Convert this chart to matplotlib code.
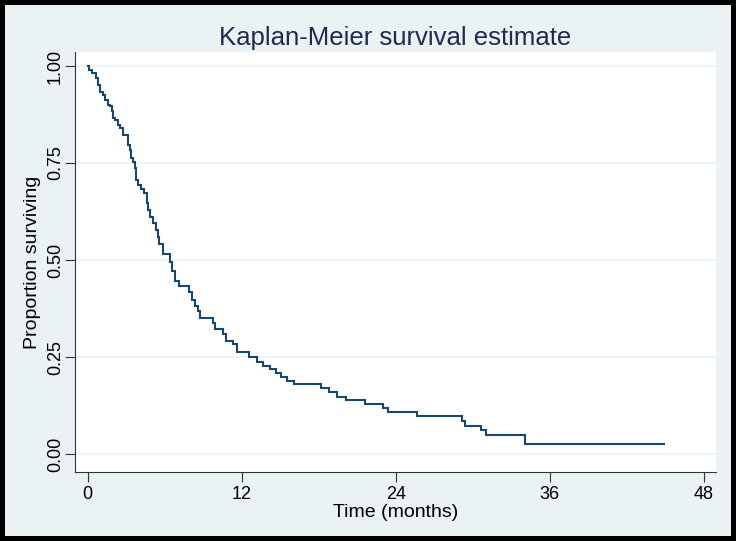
import matplotlib
matplotlib.use("Agg")
import matplotlib.pyplot as plt
import matplotlib.font_manager as fm
import numpy as np

# font: Stata look, narrow sans if available
names = {f.name for f in fm.fontManager.ttflist}
family = 'Liberation Sans Narrow' if 'Liberation Sans Narrow' in names else 'Liberation Sans'
plt.rcParams['font.family'] = [family, 'DejaVu Sans']

# -------------- KM step data ---------------------------------------------
times = [0.0, 0.12, 0.35, 0.65, 0.82, 0.95, 1.20, 1.40, 1.60, 1.75, 1.90, 1.98,
         2.15, 2.38, 2.55, 2.75, 3.15, 3.30, 3.40, 3.55, 3.70, 3.80, 3.95, 4.20,
         4.40, 4.60, 4.75, 4.90, 5.10, 5.30, 5.50, 5.60, 5.90, 6.45, 6.60, 6.85,
         7.10, 7.90, 8.15, 8.40, 8.60, 8.80, 9.80, 9.95, 10.55, 10.80, 11.35,
         11.65, 12.60, 13.20, 13.70, 14.20, 14.70, 15.10, 15.55, 16.10, 18.20,
         18.80, 19.40, 20.10, 21.60, 23.00, 23.40, 25.70, 29.20, 29.40, 30.65,
         31.00, 34.10]
surv = [1.000, 0.990, 0.981, 0.968, 0.952, 0.932, 0.925, 0.912, 0.900, 0.897,
        0.885, 0.867, 0.860, 0.847, 0.840, 0.822, 0.797, 0.784, 0.763, 0.753,
        0.737, 0.706, 0.693, 0.683, 0.672, 0.648, 0.628, 0.612, 0.595, 0.578,
        0.560, 0.540, 0.515, 0.494, 0.472, 0.446, 0.432, 0.417, 0.397, 0.381,
        0.369, 0.351, 0.338, 0.322, 0.309, 0.292, 0.284, 0.263, 0.250, 0.237,
        0.228, 0.219, 0.209, 0.198, 0.188, 0.181, 0.171, 0.159, 0.148, 0.139,
        0.128, 0.118, 0.108, 0.097, 0.086, 0.072, 0.061, 0.050, 0.025]
last_time = 44.9

x_ticks = [0, 12, 24, 36, 48]
y_ticks = [0.00, 0.25, 0.50, 0.75, 1.00]
y_ticklabels = ['0.00', '0.25', '0.50', '0.75', '1.00']

bg = '#eaf2f3'
navy = '#1a476f'
text_col = '#1e2b50'

W, H = 736, 541
fig = plt.figure(figsize=(W / 100, H / 100), dpi=100, facecolor=bg,
                 edgecolor='black', linewidth=6)

# plot region in pixels (left, top, right, bottom)
L, T, R, B = 75, 52, 716, 472
ax = fig.add_axes([L / W, 1 - B / H, (R - L) / W, (B - T) / H])
ax.set_facecolor('white')

x = times + [last_time]
y = surv + [surv[-1]]
ax.step(x, y, where='post', color=navy, lw=1.5, solid_joinstyle='miter')

# axis ranges: t=0 at px 87.5, 12.84 px/month; S=0 at px 454, 388 px/unit
ax.set_xlim((L - 87.5) / 12.84, (R - 87.5) / 12.84)
ax.set_ylim(-(B - 454) / 388, 1 + (66 - T) / 388)

ax.set_xticks(x_ticks)
ax.set_yticks(y_ticks)
ax.set_yticklabels(y_ticklabels, rotation=90, va='center')
ax.tick_params(axis='both', direction='out', length=7, width=0.8,
               colors='#333333', labelcolor='black', labelsize=13, pad=3)
ax.tick_params(axis='y', pad=1)
ax.grid(axis='y', color=bg, lw=1.2)
ax.set_axisbelow(True)

for s in ['top', 'right']:
    ax.spines[s].set_visible(False)
for s in ['left', 'bottom']:
    ax.spines[s].set_color('#333333')
    ax.spines[s].set_linewidth(0.8)

ax.set_xlabel('Time (months)', fontsize=14, labelpad=1)
ax.set_ylabel('Proportion surviving', fontsize=14, labelpad=4)
fig.text((L + R) / 2 / W, 1 - 38 / H, 'Kaplan-Meier survival estimate',
         ha='center', va='center', fontsize=18.5, color=text_col)

fig.savefig('out.png', dpi=100, facecolor=bg, edgecolor='black')
